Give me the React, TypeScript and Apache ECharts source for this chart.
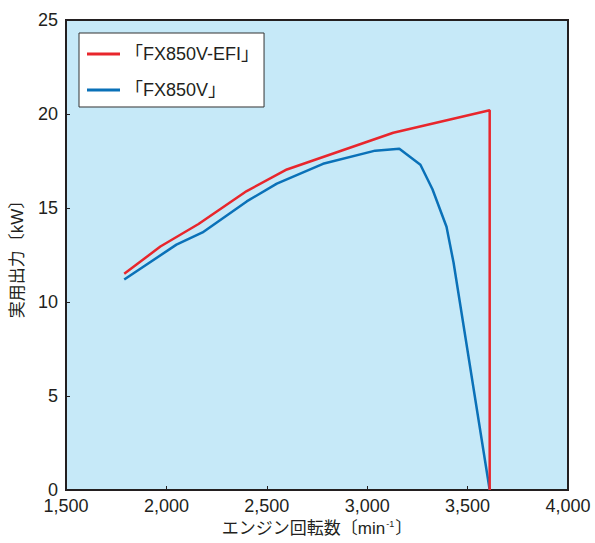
import React, { useEffect, useRef } from "react";
import * as echarts from "echarts";

const seriesNames = ["「FX850V-EFI」", "「FX850V」"];
const efiRpm = [1790, 1970, 2160, 2400, 2600, 3130, 3610, 3610];
const efiKw = [11.5, 12.95, 14.15, 15.9, 17.05, 19.0, 20.2, 0];
const stdRpm = [1790, 2050, 2180, 2400, 2550, 2780, 3040, 3160, 3265, 3325, 3395, 3430, 3610];
const stdKw = [11.2, 13.05, 13.7, 15.35, 16.3, 17.35, 18.05, 18.15, 17.3, 16.0, 14.0, 12.1, 0];
const xTicks = { min: 1500, max: 4000, interval: 500 };
const yTicks = { min: 0, max: 25, interval: 5 };

const FONT = "'Liberation Sans', Arial, 'Noto Sans CJK JP', sans-serif";

export default function App() {
  const ref = useRef<HTMLDivElement>(null);
  useEffect(() => {
    if (!ref.current) return;
    const chart = echarts.init(ref.current, null, { renderer: "svg" });
    const fmt = (v: number) => v.toLocaleString("en-US");
    chart.setOption({
      animation: false,
      textStyle: { fontFamily: FONT },
      grid: {
        left: 66,
        right: 27,
        top: 20,
        bottom: 53,
        show: true,
        backgroundColor: "#c6e9f8",
        borderColor: "#231f20",
        borderWidth: 2,
      },
      legend: {
        orient: "vertical",
        left: 79,
        top: 33,
        backgroundColor: "#ffffff",
        borderColor: "#333333",
        borderWidth: 1,
        borderRadius: 0,
        padding: [12, 5, 8, 8],
        itemGap: 18,
        itemWidth: 33,
        itemHeight: 3,
        icon: "rect",
        textStyle: { fontSize: 18, color: "#231f20", fontFamily: FONT },
        data: seriesNames,
      },
      xAxis: {
        type: "value",
        min: xTicks.min,
        max: xTicks.max,
        interval: xTicks.interval,
        splitLine: { show: false },
        axisLine: { show: true, lineStyle: { color: "#231f20", width: 2 } },
        axisTick: { show: true, inside: true, length: 4, lineStyle: { color: "#231f20", width: 1 } },
        axisLabel: { fontSize: 18, color: "#231f20", margin: 7, formatter: fmt },
        name: "エンジン回転数〔min{sup|-1}〕",
        nameLocation: "middle",
        nameGap: 29,
        nameTextStyle: {
          fontSize: 17,
          color: "#231f20",
          fontFamily: FONT,
          rich: { sup: { fontSize: 9, verticalAlign: "top", padding: [0, 1, 8, 1], color: "#231f20" } },
        },
      },
      yAxis: {
        type: "value",
        min: yTicks.min,
        max: yTicks.max,
        interval: yTicks.interval,
        splitLine: { show: false },
        axisLine: { show: true, lineStyle: { color: "#231f20", width: 2 } },
        axisTick: { show: true, inside: true, length: 4, lineStyle: { color: "#231f20", width: 1 } },
        axisLabel: { fontSize: 18, color: "#231f20", margin: 8 },
        name: "実用出力〔kW〕",
        nameLocation: "middle",
        nameRotate: 90,
        nameGap: 40,
        nameTextStyle: { fontSize: 17, color: "#231f20", fontFamily: FONT },
      },
      series: [
        {
          name: seriesNames[0],
          type: "line",
          symbol: "none",
          data: efiRpm.map((x, i) => [x, efiKw[i]]),
          lineStyle: { color: "#e8262c", width: 2.5 },
          itemStyle: { color: "#e8262c" },
          z: 3,
        },
        {
          name: seriesNames[1],
          type: "line",
          symbol: "none",
          data: stdRpm.map((x, i) => [x, stdKw[i]]),
          lineStyle: { color: "#0a71b8", width: 2.5 },
          itemStyle: { color: "#0a71b8" },
          z: 2,
        },
      ],
    });
    return () => chart.dispose();
  }, []);
  return (
    <div
      ref={ref}
      style={{ position: "absolute", left: 0, top: 0, width: 595, height: 543 }}
    />
  );
}
